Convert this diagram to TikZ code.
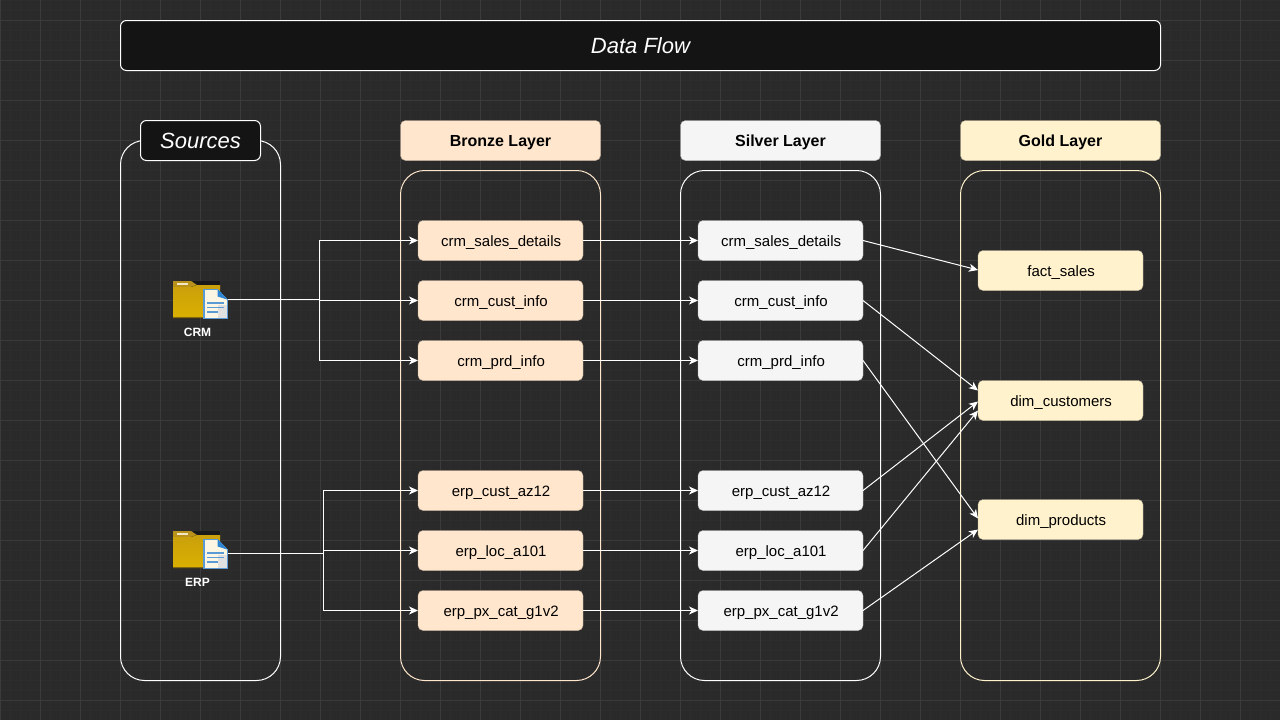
\documentclass[tikz,border=0pt]{standalone}
\usepackage{fontspec}
\setmainfont{Liberation Sans}
\usetikzlibrary{arrows.meta,calc}
\definecolor{bgc}{HTML}{2A2A2A}
\definecolor{minorc}{HTML}{2D2D2D}
\definecolor{majorc}{HTML}{3B3B3B}
\definecolor{darkc}{HTML}{141414}
\definecolor{bronzec}{HTML}{FFE6CC}
\definecolor{silverc}{HTML}{F5F5F5}
\definecolor{goldc}{HTML}{FFF2CC}
\definecolor{docblue}{HTML}{2F86D2}
\definecolor{docline}{HTML}{5B9BD5}
\definecolor{tabgold}{HTML}{B8921A}
\definecolor{goldtop}{HTML}{C9A00C}
\definecolor{goldbot}{HTML}{DAB000}
\definecolor{cream}{HTML}{FBF6E4}
\tikzset{
  x=1pt,y=-1pt,
  titlebox/.style={draw=white,fill=darkc,rounded corners=6,line width=1,text=white,inner sep=0,outer sep=0,text height=16.5,text depth=0},
  swim/.style={rounded corners=24,line width=1},
  bronzehead/.style={draw=bronzec!75!black,fill=bronzec,rounded corners=5,minimum width=200,minimum height=40,inner sep=0,outer sep=0,font=\fontsize{16}{18}\selectfont\bfseries,text=black,text height=12.5,text depth=0},
  silverhead/.style={bronzehead,draw=silverc!75!black,fill=silverc},
  goldhead/.style={bronzehead,draw=goldc!75!black,fill=goldc},
  bronzeitem/.style={draw=bronzec!75!black,fill=bronzec,rounded corners=5,minimum width=165,minimum height=40,inner sep=0,outer sep=0,font=\fontsize{15}{17}\selectfont,text=black,text height=12.5,text depth=0,execute at begin node=\hspace*{1.2pt}},
  silveritem/.style={bronzeitem,draw=silverc!75!black,fill=silverc},
  golditem/.style={bronzeitem,draw=goldc!75!black,fill=goldc},
  flow/.style={draw=white,line width=1,-{Stealth[length=9,width=8,inset=2.5]}},
  bus/.style={draw=white,line width=1},
  iconbox/.style={minimum width=55,minimum height=38,inner sep=0,outer sep=0},
  iconlabel/.style={text=white,font=\fontsize{12}{14}\selectfont\bfseries,inner sep=0},
  foldericon/.pic={
    \fill[black!90] (20,0) -- (47,0) -- (47,6) -- (20,6) -- cycle;
    \fill[tabgold] (0,0) -- (18,0) -- (24,4) -- (47,4) -- (47,8) -- (0,8) -- cycle;
    \fill[bottom color=goldbot,top color=goldtop] (0,6) -- (18,6) -- (24,4) -- (47,4) -- (47,37) -- (0,37) -- cycle;
    \fill[tabgold!70!black] (0,36.3) rectangle (47,37.3);
    \fill[white!75!goldtop] (4.3,1.7) rectangle (15,3.7);
    \fill[cream] (31,8.3) -- (44.7,8.3) -- (54.3,18.3) -- (54.3,37.3) -- (31,37.3) -- cycle;
    \fill[white!88!black] (45,24) -- (54.3,24) -- (54.3,37.3) -- (45,37.3) -- cycle;
    \fill[docblue] (44.7,8) -- (55,18.8) -- (44.7,15.5) -- cycle;
    \draw[docline,line width=1.3] (44.7,8.3) -- (31,8.3) -- (31,37.3) -- (54.3,37.3) -- (54.3,18.3);
    \draw[docline,line width=1.6] (34,21.7) -- (51,21.7) (34,26.3) -- (51,26.3) (34,30.7) -- (45,30.7);
  }
}
\begin{document}
\begin{tikzpicture}
\useasboundingbox (0,0) rectangle (1280,720);
\fill[bgc] (0,0) rectangle (1280,720);
\foreach \i in {0,10,...,1280} \draw[minorc,line width=1] (\i+0.5,0) -- (\i+0.5,720);
\foreach \i in {0,10,...,720} \draw[minorc,line width=1] (0,\i+0.5) -- (1280,\i+0.5);
\foreach \i in {0,40,...,1280} \draw[majorc,line width=1] (\i+0.5,0) -- (\i+0.5,720);
\foreach \i in {20,60,...,720} \draw[majorc,line width=1] (0,\i+0.5) -- (1280,\i+0.5);

% containers
\draw[swim,draw=white] (120.5,140.5) rectangle (280.5,680.5);
\draw[swim,draw=bronzec] (400.5,170.5) rectangle (600.5,680.5);
\draw[swim,draw=white] (680.5,170.5) rectangle (880.5,680.5);
\draw[swim,draw=goldc] (960.5,170.5) rectangle (1160.5,680.5);

% titles
\node[titlebox,minimum width=1040,minimum height=50,font=\fontsize{22}{26}\selectfont\itshape] (title) at (640.5,45.5) {Data Flow};
\node[titlebox,minimum width=120,minimum height=40,font=\fontsize{22}{26}\selectfont\itshape] (sources) at (200.5,140.5) {Sources};
\node[bronzehead] (bh) at (500.5,140.5) {Bronze Layer};
\node[silverhead] (sh) at (780.5,140.5) {Silver Layer};
\node[goldhead] (gh) at (1060.5,140.5) {Gold Layer};

% icons
\node[iconbox] (crm) at (200.5,300) {};
\node[iconbox] (erp) at (200.5,550) {};
\pic at (173,281) {foldericon};
\pic at (173,531) {foldericon};
\node[iconlabel] (crml) at (197.5,332.5) {CRM};
\node[iconlabel] (erpl) at (197.5,582.5) {ERP};

% bronze
\node[bronzeitem] (b1) at (500.5,240.5) {crm\_sales\_details};
\node[bronzeitem] (b2) at (500.5,300.5) {crm\_cust\_info};
\node[bronzeitem] (b3) at (500.5,360.5) {crm\_prd\_info};
\node[bronzeitem] (b4) at (500.5,490.5) {erp\_cust\_az12};
\node[bronzeitem] (b5) at (500.5,550.5) {erp\_loc\_a101};
\node[bronzeitem] (b6) at (500.5,610.5) {erp\_px\_cat\_g1v2};
% silver
\node[silveritem] (s1) at (780.5,240.5) {crm\_sales\_details};
\node[silveritem] (s2) at (780.5,300.5) {crm\_cust\_info};
\node[silveritem] (s3) at (780.5,360.5) {crm\_prd\_info};
\node[silveritem] (s4) at (780.5,490.5) {erp\_cust\_az12};
\node[silveritem] (s5) at (780.5,550.5) {erp\_loc\_a101};
\node[silveritem] (s6) at (780.5,610.5) {erp\_px\_cat\_g1v2};
% gold
\node[golditem] (g1) at (1060.5,270.5) {fact\_sales};
\node[golditem] (g2) at (1060.5,400.5) {dim\_customers};
\node[golditem] (g3) at (1060.5,519.5) {dim\_products};

% source connectors
\coordinate (crmbus) at (319,299.5);
\coordinate (erpbus) at (323,553.5);
\draw[bus] ($(crm.east)+(0,-0.5)$) -- (crmbus);
\draw[flow] (crmbus) |- (b1.west);
\draw[flow] (crmbus) |- (b2.west);
\draw[flow] (crmbus) |- (b3.west);
\draw[bus] ($(erp.east)+(0,3.5)$) -- (erpbus);
\draw[flow] (erpbus) |- (b4.west);
\draw[flow] (erpbus) |- (b5.west);
\draw[flow] (erpbus) |- (b6.west);

% bronze to silver
\foreach \k in {1,...,6} \draw[flow] (b\k.east) -- (s\k.west);

% silver to gold
\draw[flow] (s1.east) -- ($(g1.west)+(0,-0.5)$);
\draw[flow] (s2.east) -- ($(g2.west)+(0,-10)$);
\draw[flow] (s3.east) -- ($(g3.west)+(0,-1)$);
\draw[flow] (s4.east) -- ($(g2.west)+(0,1)$);
\draw[flow] (s5.east) -- ($(g2.west)+(0,10)$);
\draw[flow] (s6.east) -- ($(g3.west)+(0,10)$);
\end{tikzpicture}
\end{document}
